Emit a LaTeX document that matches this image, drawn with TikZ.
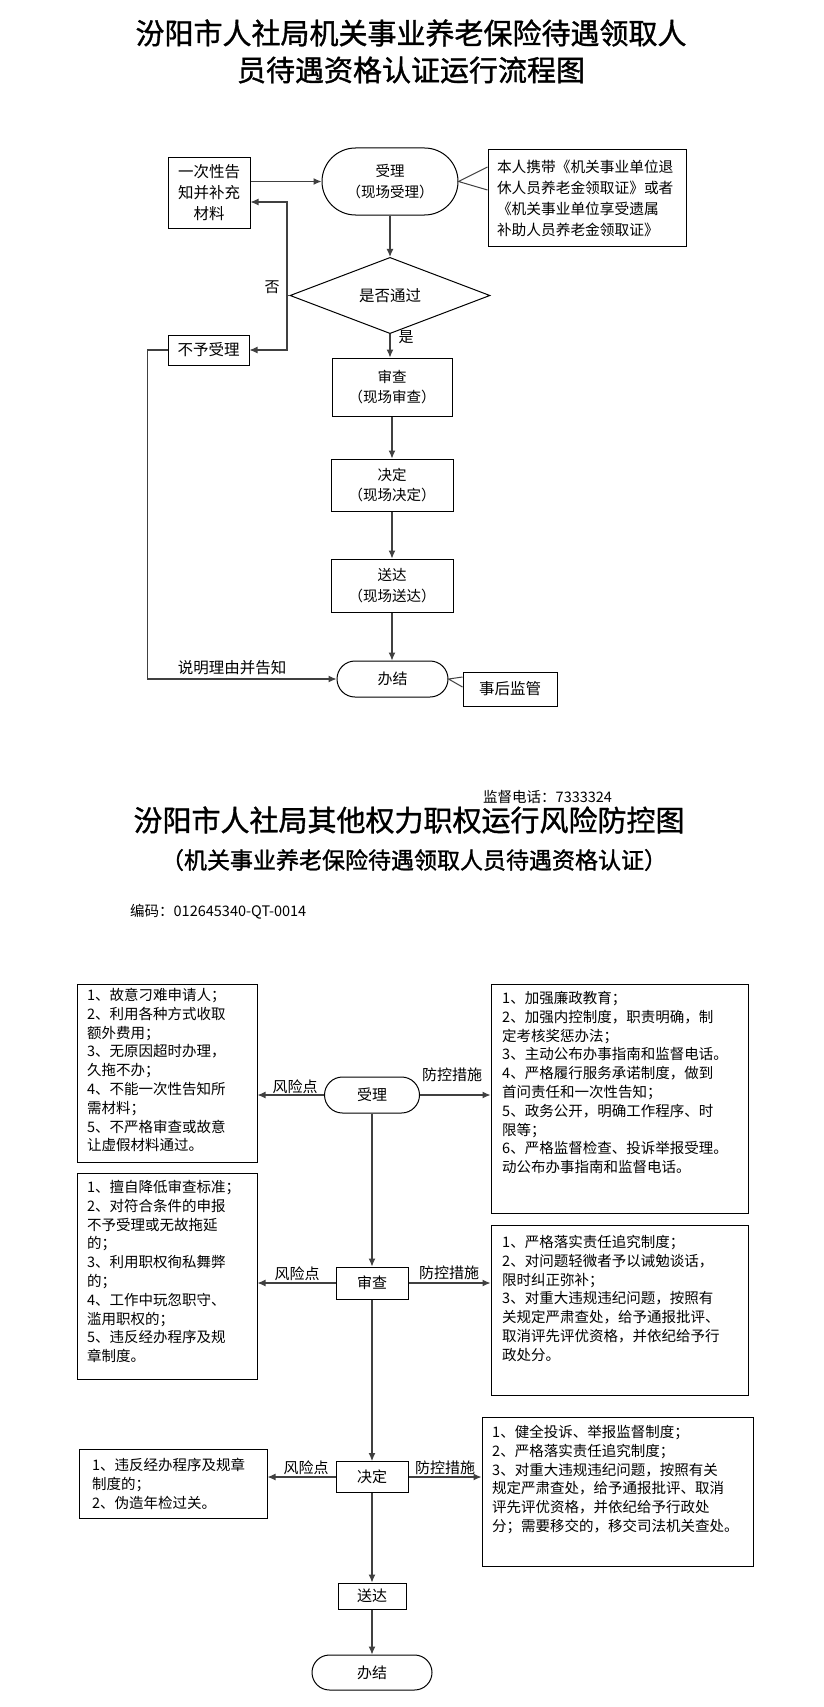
\documentclass[tikz,border=0pt]{standalone}
\usepackage{fontspec}
\setmainfont{Noto Sans CJK SC}
\newfontfamily\headfont[FakeBold=1.2]{Noto Sans CJK SC}
\usetikzlibrary{shapes.geometric,shapes.misc,arrows.meta}

\newcommand{\fs}[2]{\fontsize{#1}{#2}\selectfont}

\begin{document}
\begin{tikzpicture}[x=1pt,y=-1pt,text centered,
  box/.style={draw,line width=1pt,inner sep=0pt},
  pill/.style={draw,line width=1pt,rounded rectangle,inner sep=0pt},
  flow/.style={line width=1.1pt,black!75,-{Latex[length=8pt,width=7pt]}},
  wire/.style={line width=1pt,black!75},
  txt/.style={inner sep=0pt,align=left,anchor=north west,font=\fs{14.5}{18.8}},
  lbl/.style={inner sep=0pt,font=\fs{15}{20}},
  head/.style={font=\headfont\fs{29}{37}}]
  \useasboundingbox (0,0) rectangle (823,1707);
  \fill[white] (0,0) rectangle (823,1707);

  \node (title1) at (411,33) [head] {汾阳市人社局机关事业养老保险待遇领取人};
  \node (title2) at (411,70) [head] {员待遇资格认证运行流程图};

  \node (notice) at (209,193) [box,minimum width=82,minimum height=70,align=center,font=\fs{15.5}{21}] {一次性告\\知并补充\\材料};
  \node (accept) at (390,181.5) [pill,minimum width=136,minimum height=67,align=center,font=\fs{14.5}{21}] {受理\\（现场受理）};
  \node (note) at (587,198) [box,inner sep=9pt,text width=180,minimum height=96,align=left,font=\fs{14.7}{21}] {本人携带《机关事业单位退\\休人员养老金领取证》或者\\《机关事业单位享受遗属\\补助人员养老金领取证》};
  \node (decide) at (390,295.5) [diamond,draw,line width=1pt,inner sep=0pt,minimum width=200,minimum height=45,font=\fs{15.5}{20}] {是否通过};
  \node (refuse) at (208.5,350) [box,minimum width=81,minimum height=30,font=\fs{15.5}{20}] {不予受理};
  \node (check) at (392,387) [box,minimum width=120,minimum height=58,align=center,font=\fs{14.5}{20.5}] {审查\\（现场审查）};
  \node (decision) at (392,485) [box,minimum width=122,minimum height=52,align=center,font=\fs{14.5}{20.5}] {决定\\（现场决定）};
  \node (deliver) at (392,585.5) [box,minimum width=122,minimum height=53,align=center,font=\fs{14.5}{20.5}] {送达\\（现场送达）};
  \node (close) at (392.5,679) [pill,minimum width=111,minimum height=36,font=\fs{15}{20}] {办结};
  \node (supervise) at (510,689) [box,minimum width=94,minimum height=34,font=\fs{15.5}{20}] {事后监管};

  \node (no) at (272,287) [lbl] {否};
  \node (yes) at (406,337) [lbl] {是};
  \node (reason) at (232,668) [lbl,font=\fs{15.5}{20}] {说明理由并告知};

  \draw[flow] (notice.east |- accept.west) -- (accept.west);
  \draw[wire] (note.west |- 0,167) -- (accept.east) -- (note.west |- 0,190);
  \draw[flow] (accept.south) -- (decide.north);
  \coordinate (nojoin) at (287,295.5);
  \draw[wire] (decide.west) -- (nojoin);
  \draw[flow] (nojoin) |- ([yshift=-9pt]notice.east);
  \draw[flow] (nojoin) |- (refuse.east);
  \draw[flow] (decide.south) -- (decide.south |- check.north);
  \draw[flow] (check.south) -- (decision.north);
  \draw[flow] (decision.south) -- (deliver.north);
  \draw[flow] (deliver.south) -- (deliver.south |- close.north);
  \draw[wire] (supervise.west |- 0,677) -- (close.east) -- (supervise.west |- 0,687);
  \draw[flow] (refuse.west) -- ++(-20,0) |- (close.west);

  \node (phone) at (483,797) [anchor=west,inner sep=0pt,font=\fs{14.5}{20}] {监督电话：7333324};
  \node (title3) at (409,820) [head] {汾阳市人社局其他权力职权运行风险防控图};
  \node (title4) at (414,860) [font=\headfont\fs{23}{30}] {（机关事业养老保险待遇领取人员待遇资格认证）};
  \node (code) at (130,912) [anchor=west,inner sep=0pt,font=\fs{14.5}{20}] {编码：012645340-QT-0014};

  \node (acc2) at (372,1095) [pill,minimum width=95,minimum height=36,font=\fs{15}{20}] {受理};
  \node (chk2) at (372,1283) [box,minimum width=72,minimum height=32,font=\fs{15}{20}] {审查};
  \node (dec2) at (372,1477) [box,minimum width=72,minimum height=31,font=\fs{15}{20}] {决定};
  \node (dlv2) at (372,1596) [box,minimum width=68,minimum height=26,font=\fs{15}{20}] {送达};
  \node (end2) at (372,1672.5) [pill,minimum width=120,minimum height=35,font=\fs{15}{20}] {办结};

  \node (risk1) at (167,1073) [box,minimum width=180,minimum height=178] {};
  \node (risk1txt) at (87,988) [txt] {1、故意刁难申请人；\\2、利用各种方式收取\\额外费用；\\3、无原因超时办理，\\久拖不办；\\4、不能一次性告知所\\需材料；\\5、不严格审查或故意\\让虚假材料通过。};
  \node (ctrl1) at (619.5,1098.5) [box,minimum width=257,minimum height=229] {};
  \node (ctrl1txt) at (502,991) [txt] {1、加强廉政教育；\\2、加强内控制度，职责明确，制\\定考核奖惩办法；\\3、主动公布办事指南和监督电话。\\4、严格履行服务承诺制度，做到\\首问责任和一次性告知；\\5、政务公开，明确工作程序、时\\限等；\\6、严格监督检查、投诉举报受理。\\动公布办事指南和监督电话。};
  \node (risk2) at (167,1276) [box,minimum width=180,minimum height=206] {};
  \node (risk2txt) at (87,1180) [txt] {1、擅自降低审查标准；\\2、对符合条件的申报\\不予受理或无故拖延\\的；\\3、利用职权徇私舞弊\\的；\\4、工作中玩忽职守、\\滥用职权的；\\5、违反经办程序及规\\章制度。};
  \node (ctrl2) at (619.5,1310) [box,minimum width=257,minimum height=170] {};
  \node (ctrl2txt) at (502,1235) [txt] {1、严格落实责任追究制度；\\2、对问题轻微者予以诫勉谈话，\\限时纠正弥补；\\3、对重大违规违纪问题，按照有\\关规定严肃查处，给予通报批评、\\取消评先评优资格，并依纪给予行\\政处分。};
  \node (risk3) at (173,1483.5) [box,minimum width=188,minimum height=69] {};
  \node (risk3txt) at (92,1458) [txt] {1、违反经办程序及规章\\制度的；\\2、伪造年检过关。};
  \node (ctrl3) at (617.5,1491.5) [box,minimum width=271,minimum height=149] {};
  \node (ctrl3txt) at (492,1425) [txt] {1、健全投诉、举报监督制度；\\2、严格落实责任追究制度；\\3、对重大违规违纪问题，按照有关\\规定严肃查处，给予通报批评、取消\\评先评优资格，并依纪给予行政处\\分；需要移交的，移交司法机关查处。};

  \draw[flow] (acc2.south) -- (chk2.north);
  \draw[flow] (chk2.south) -- (dec2.north);
  \draw[flow] (dec2.south) -- (dlv2.north);
  \draw[flow] (dlv2.south) -- (end2.north);
  \draw[flow] (acc2.west) -- (acc2.west -| risk1.east);
  \draw[flow] (acc2.east) -- (acc2.east -| ctrl1.west);
  \draw[flow] (chk2.west) -- (chk2.west -| risk2.east);
  \draw[flow] (chk2.east) -- (chk2.east -| ctrl2.west);
  \draw[flow] (dec2.west) -- (dec2.west -| risk3.east);
  \draw[flow] (dec2.east) -- (dec2.east -| ctrl3.west);

  \node (risk1lbl) at (295,1087) [lbl] {风险点};
  \node (ctrl1lbl) at (452,1075) [lbl] {防控措施};
  \node (risk2lbl) at (297,1274) [lbl] {风险点};
  \node (ctrl2lbl) at (449,1273) [lbl] {防控措施};
  \node (risk3lbl) at (306,1468) [lbl] {风险点};
  \node (ctrl3lbl) at (445,1468) [lbl] {防控措施};

\end{tikzpicture}
\end{document}
